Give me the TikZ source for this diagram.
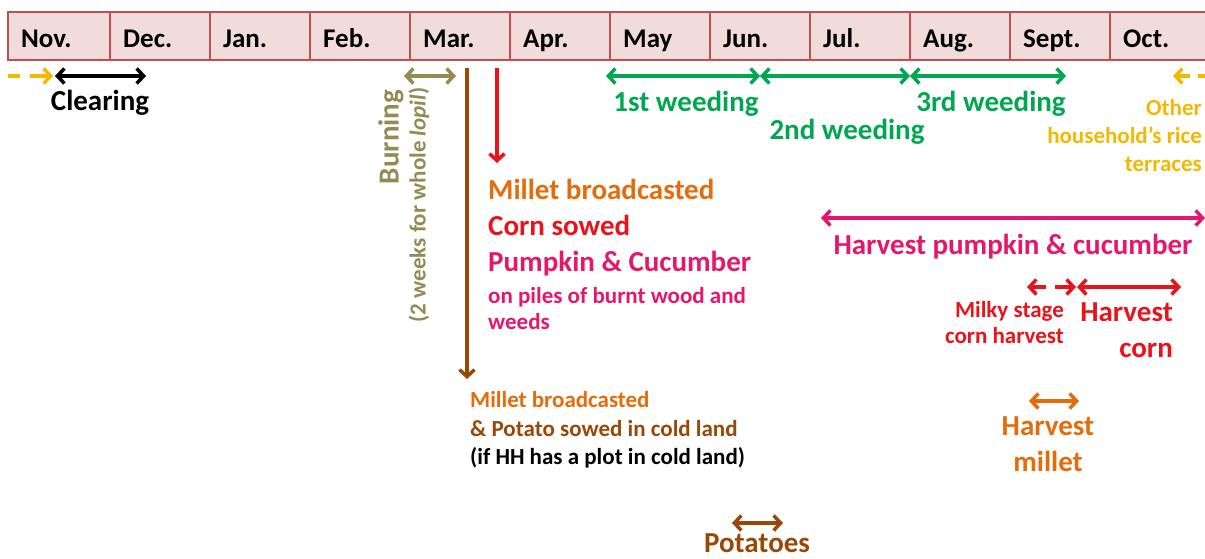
\documentclass[tikz,border=0pt]{standalone}
\usepackage{fontspec}
\setmainfont{Carlito}
\usetikzlibrary{arrows.meta}
\definecolor{barfill}{HTML}{F2DCDB}
\definecolor{barline}{HTML}{C0504D}
\definecolor{cgreen}{HTML}{00A650}
\definecolor{corange}{HTML}{E46C0A}
\definecolor{cred}{HTML}{E8141B}
\definecolor{cpink}{HTML}{E5176D}
\definecolor{cyellow}{HTML}{F5B800}
\definecolor{colive}{HTML}{948A54}
\definecolor{cbrown}{HTML}{984807}
\tikzset{
  big/.style={font=\bfseries\fontsize{29}{35}\selectfont, inner sep=0pt},
  small/.style={font=\bfseries\fontsize{23}{26}\selectfont, inner sep=0pt},
  mon/.style={font=\bfseries\fontsize{27}{30}\selectfont, inner sep=0pt, anchor=base west},
  cell/.style={draw=barline, fill=barfill, line width=1.2pt},
  barb/.style={line width=3.5pt, arrows={Straight Barb[length=7pt,width=15pt]-Straight Barb[length=7pt,width=15pt]}},
  barbend/.style={line width=3.5pt, -{Straight Barb[length=7pt,width=15pt]}},
}
\begin{document}
\begin{tikzpicture}[x=1pt,y=-1pt]
\useasboundingbox (0,0) rectangle (1205,558);
% month bar
\foreach \i/\m in {0/Nov.,1/Dec.,2/Jan.,3/Feb.,4/Mar.,5/Apr.,6/May,7/Jun.,8/Jul.,9/Aug.,10/Sept.,11/Oct.}{
  \pgfmathsetmacro{\xl}{\i==0 ? 8 : 10+100*\i}
  \pgfmathsetmacro{\xr}{110+100*\i}
  \draw[cell] (\xl,12) rectangle (\xr,60);
  \node[mon] (m\i) at (\xl+13,47) {\m};
}
% coordinates
\coordinate (y0) at (8,76); \coordinate (y1) at (20,76);
\coordinate (y2) at (30,76); \coordinate (y3) at (53,76);
\coordinate (c1) at (55,76); \coordinate (c2) at (146,76);
\coordinate (b1) at (404,76); \coordinate (b2) at (456,76);
\coordinate (br1) at (467,68); \coordinate (br2) at (467,379);
\coordinate (r1) at (497,68); \coordinate (r2) at (497,163);
\coordinate (g1) at (606,76); \coordinate (g2) at (760,76);
\coordinate (g3) at (910,76); \coordinate (g4) at (1066,76);
\coordinate (oy1) at (1190,76); \coordinate (oy2) at (1173,76);
\coordinate (oy3) at (1198,76); \coordinate (oy4) at (1206,76);
\coordinate (p1) at (821,218); \coordinate (p2) at (1205,218);
\coordinate (mk1) at (1046,287); \coordinate (mk2) at (1027,287);
\coordinate (mk3) at (1055,287); \coordinate (mk4) at (1076,287);
\coordinate (hc1) at (1077,287); \coordinate (hc2) at (1181,287);
\coordinate (hm1) at (1029,401); \coordinate (hm2) at (1079,401);
\coordinate (pt1) at (732,523); \coordinate (pt2) at (783,523);

% connectors
\draw[cyellow, line width=3.5pt] (y0) -- (y1);
\draw[cyellow, barbend] (y2) -- (y3);
\draw[black, barb] (c1) -- (c2);
\draw[colive, barb] (b1) -- (b2);
\draw[cbrown, barbend] (br1) -- (br2);
\draw[cred, barbend] (r1) -- (r2);
\draw[cgreen, barb] (g1) -- (g2);
\draw[cgreen, barb] (g2) -- (g3);
\draw[cgreen, barb] (g3) -- (g4);
\draw[cyellow, barbend] (oy1) -- (oy2);
\draw[cyellow, line width=3.5pt] (oy3) -- (oy4);
\draw[cpink, barb] (p1) -- (p2);
\draw[cred, barbend] (mk1) -- (mk2);
\draw[cred, barbend] (mk3) -- (mk4);
\draw[cred, barb] (hc1) -- (hc2);
\draw[corange, barb] (hm1) -- (hm2);
\draw[cbrown, barb] (pt1) -- (pt2);

% texts
\node[big, anchor=base] (clearing) at (100,110) {Clearing};
\node[big, colive, rotate=90] (burning) at (391,137) {Burning};
\node[small, colive, rotate=90] (weeks) at (419,205) {(2 weeks for whole \textit{lopil})};
\node[big, cgreen, anchor=base] (w1) at (686,111) {1st weeding};
\node[big, cgreen, anchor=base] (w2) at (847,139) {2nd weeding};
\node[big, cgreen, anchor=base] (w3) at (991,111) {3rd weeding};
\node[small, cyellow, anchor=base east] (oth1) at (1202,115) {Other};
\node[small, cyellow, anchor=base east] (oth2) at (1202,143) {household’s rice};
\node[small, cyellow, anchor=base east] (oth3) at (1202,171) {terraces};
\node[big, corange, anchor=base west] (mb) at (488,199) {Millet broadcasted};
\node[big, cred, anchor=base west] (cs) at (488,235) {Corn sowed};
\node[big, cpink, anchor=base west] (pc) at (488,271) {Pumpkin \& Cucumber};
\node[small, cpink, anchor=base west] (pl1) at (488,303) {on piles of burnt wood and};
\node[small, cpink, anchor=base west] (pl2) at (488,329) {weeds};
\node[big, cpink, anchor=base] (hp) at (1013,254) {Harvest pumpkin \& cucumber};
\node[small, cred, anchor=base east] (mk) at (1064,317) {Milky stage};
\node[small, cred, anchor=base east] (mkb) at (1064,343) {corn harvest};
\node[big, cred, anchor=base east] (hc) at (1173,321) {Harvest};
\node[big, cred, anchor=base east] (hcb) at (1173,357) {corn};
\node[big, corange, anchor=base] (hm) at (1048,435) {Harvest};
\node[big, corange, anchor=base] (hmb) at (1048,471) {millet};
\node[small, corange, anchor=base west] (lm1) at (470,407) {Millet broadcasted};
\node[small, cbrown, anchor=base west] (lm2) at (470,436) {\& Potato sowed in cold land};
\node[small, black, anchor=base west] (lm3) at (470,464) {(if HH has a plot in cold land)};
\node[big, cbrown, anchor=base] (pot) at (757,552) {Potatoes};
\end{tikzpicture}
\end{document}
